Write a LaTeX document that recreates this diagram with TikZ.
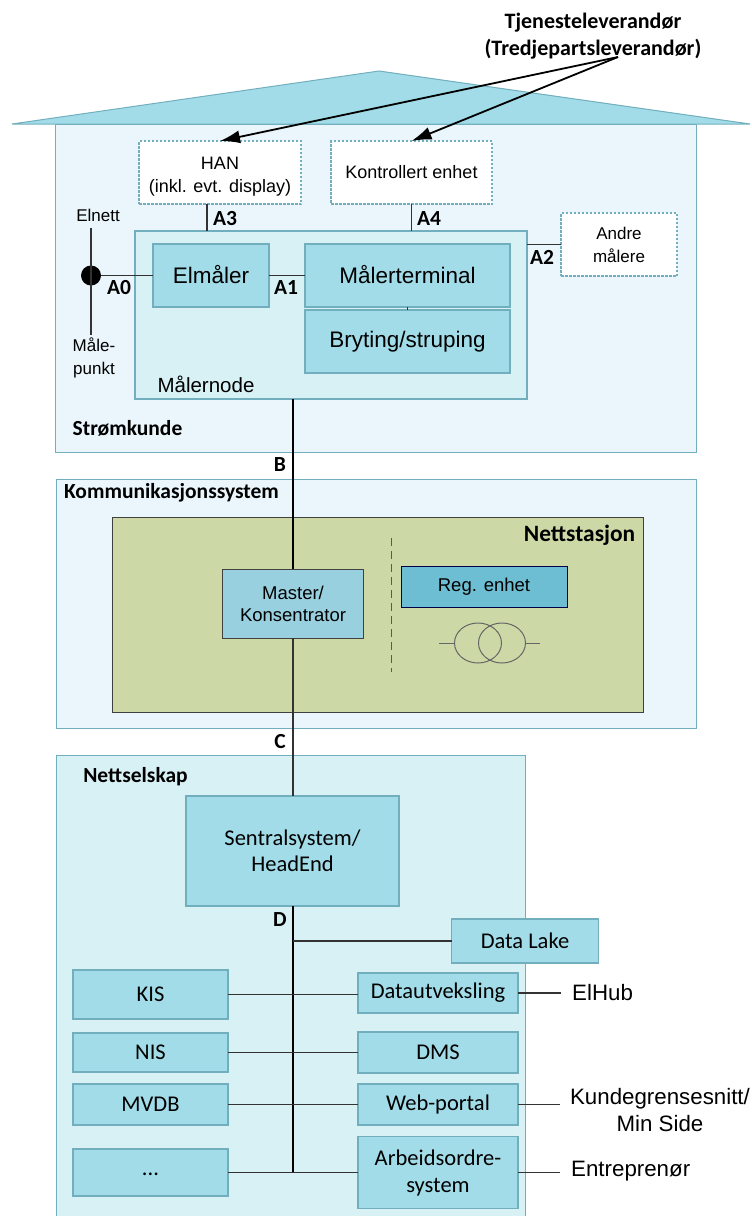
\documentclass[tikz,border=0pt]{standalone}
\usepackage{fontspec}
\setmainfont{Liberation Sans}
\newfontfamily\calibri{Carlito}
\usetikzlibrary{shapes.geometric,arrows.meta}

\definecolor{boxblue}{HTML}{A1DCE8}
\definecolor{paleblue}{HTML}{EAF6FC}
\definecolor{nodeblue}{HTML}{D8F1F5}
\definecolor{edgeblue}{HTML}{72AFBE}
\definecolor{stationgreen}{HTML}{CCD9A6}
\definecolor{masterblue}{HTML}{99D0DF}
\definecolor{regblue}{HTML}{6DBDD3}

\tikzset{
    area/.style={draw=edgeblue,fill=paleblue,line width=1pt,inner sep=0pt,outer sep=0pt},
    box/.style={draw=edgeblue,fill=boxblue,line width=1.2pt,inner sep=0pt,outer sep=0pt,align=center,font=\fontsize{22.5}{27}\selectfont},
    darkbox/.style={draw=black!75,line width=1pt,inner sep=0pt,outer sep=0pt,align=center,font=\fontsize{18.5}{22}\selectfont},
    open/.style={draw=edgeblue,fill=white,dash pattern=on 2.5pt off 1.5pt,line width=1.2pt,inner sep=0pt,outer sep=0pt,align=center,font=\fontsize{18}{23}\selectfont},
    plain/.style={inner sep=0pt,align=center,font=\fontsize{17}{23}\selectfont},
    tag/.style={inner sep=0pt,font=\calibri\bfseries\fontsize{21.5}{22}\selectfont},
    outside/.style={inner sep=0pt,align=center,font=\fontsize{22.3}{27}\selectfont},
    wire/.style={draw=black!80,line width=1.1pt},
    pointer/.style={-{Latex[length=20pt,width=13pt]},line width=1.8pt},
}

\begin{document}
\begin{tikzpicture}[x=1pt,y=-1pt]
    \useasboundingbox (0,0) rectangle (752,1216);
    % Stroemkunde
    \node[area,minimum width=641,minimum height=328] (house) at (375.5,288) {};
    \draw[edgeblue,fill=boxblue,line width=1pt] (12,124) -- (379,71) -- (750,124) -- cycle;
    \node[tag] (stromkunde) at (127.5,428) {Strømkunde};
    \node[tag,font=\calibri\bfseries\fontsize{22}{27}\selectfont,align=center] (tjeneste) at (593,36) {Tjenesteleverandør\\(Tredjepartsleverandør)};
    \coordinate (spread) at (618,57);

    \node[open,minimum width=162,minimum height=63] (han) at (220,172.5) {\rule{0pt}{20pt}HAN\\(inkl. evt. display)};
    \node[open,minimum width=161,minimum height=63] (kontroll) at (411.5,172.5) {Kontrollert enhet};
    \node[open,font=\fontsize{17}{23}\selectfont,minimum width=116,minimum height=63] (andre) at (619,244.5) {Andre\\målere};
    \draw[pointer] (spread) -- (han.north);
    \draw[pointer] (spread) -- (kontroll.north);

    \node[box,fill=nodeblue,minimum width=392,minimum height=168] (malernode) at (331,315) {};
    \node[plain,font=\fontsize{20.5}{24}\selectfont] (nodelabel) at (206,384) {Målernode};
    \node[box,minimum width=116,minimum height=63] (elmaler) at (211,275.5) {\raisebox{2pt}{Elmåler}};
    \node[box,minimum width=205,minimum height=63] (terminal) at (407.5,275.5) {\raisebox{2pt}{Målerterminal}};
    \node[box,minimum width=205,minimum height=63] (bryting) at (407.5,341.5) {Bryting/struping};
    \draw[wire] (terminal) -- (bryting);

    \node[circle,fill=black,minimum size=20,inner sep=0pt] (punkt) at (91,275.5) {};
    \coordinate (nett) at (91,228);
    \coordinate (bunn) at (91,335);
    \coordinate (hanport) at (207,231);
    \draw[wire] (nett) -- (bunn);
    \draw[wire] (punkt) -- (elmaler.west);
    \draw[wire] (elmaler.east) -- (terminal.west);
    \node[plain] (elnett) at (98,215) {Elnett};
    \node[plain] (malepunkt) at (94,358) {Måle-\\punkt};
    \node[tag] (a0) at (119,288) {A0};
    \node[tag] (a1) at (286,288) {A1};
    \node[tag] (a2) at (542,257) {A2};
    \node[tag] (a3) at (225,219) {A3};
    \node[tag] (a4) at (429,219) {A4};
    \draw[wire] (han.south -| hanport) -- (hanport);
    \draw[wire] (kontroll.south) -- (malernode.north -| kontroll.south);
    \draw[wire] (malernode.east |- andre) -- (andre.west);

    % Kommunikasjonssystem
    \node[area,minimum width=640,minimum height=249] (komm) at (376,603.5) {};
    \node[tag] (kommlabel) at (171.5,493) {Kommunikasjonssystem};
    \node[darkbox,fill=stationgreen,minimum width=531,minimum height=195] (stasjon) at (377.5,614.5) {};
    \node[tag,font=\calibri\bfseries\fontsize{23.4}{24}\selectfont] (stasjonlabel) at (579.5,535) {Nettstasjon};
    \node[darkbox,fill=masterblue,minimum width=141,minimum height=69] (master) at (293,603.5) {Master/\\Konsentrator};
    \node[darkbox,fill=regblue,draw=black!70!blue,minimum width=166,minimum height=41] (reg) at (484,586.5) {Reg. enhet};
    \draw[black!65,dash pattern=on 8pt off 5pt,line width=1pt] (391,538) -- (391,672);
    \node[draw=black!60,ellipse,minimum width=47,minimum height=40,line width=1pt,inner sep=0pt] (trafoa) at (478,643) {};
    \node[draw=black!60,ellipse,minimum width=47,minimum height=40,line width=1pt,inner sep=0pt] (trafob) at (502,643) {};
    \coordinate (trafoinn) at (439,643);
    \coordinate (trafout) at (540,643);
    \draw[black!60,line width=1pt] (trafoinn) -- (trafoa.west);
    \draw[black!60,line width=1pt] (trafob.east) -- (trafout);

    % Nettselskap
    \node[area,fill=nodeblue,minimum width=469,minimum height=462] (selskap) at (290.5,986) {};
    \node[tag] (selskaplabel) at (135.5,777) {Nettselskap};
    \node[box,font=\calibri\fontsize{22.5}{26}\selectfont,minimum width=213,minimum height=110] (sentral) at (292.5,851) {Sentralsystem/\\HeadEnd};

    \draw[line width=1.8pt] (malernode.south -| master.north) -- (master.north);
    \draw[wire] (master.south) -- (sentral.north -| master.south);
    \node[tag] (b) at (280,465) {B};
    \node[tag] (c) at (280,742) {C};
    \node[tag] (d) at (280,920) {D};

    \tikzset{sys/.style={box,font=\calibri\fontsize{22.5}{27}\selectfont}}
    \node[sys,minimum width=147,minimum height=44] (lake) at (525,941) {Data Lake};
    \node[sys,minimum width=155,minimum height=49] (kis) at (150.5,994.5) {KIS};
    \node[sys,minimum width=155,minimum height=39] (nis) at (150.5,1052.5) {NIS};
    \node[sys,minimum width=155,minimum height=41] (mvdb) at (150.5,1104.5) {MVDB};
    \node[sys,minimum width=155,minimum height=47] (dots) at (150.5,1172.5) {\raisebox{-6pt}{...}};
    \node[sys,minimum width=160,minimum height=40] (utveksling) at (438,993) {Datautveksling};
    \node[sys,minimum width=160,minimum height=41] (dms) at (438,1052.5) {DMS};
    \node[sys,minimum width=160,minimum height=41] (web) at (438,1104.5) {Web-portal};
    \node[sys,minimum width=160,minimum height=72] (arbeid) at (438,1172.5) {Arbeidsordre-\\system};

    \coordinate (busend) at (293,1172.5);
    \draw[line width=1.5pt] (sentral.south -| busend) -- (busend);
    \draw[wire] (busend |- lake.west) -- (lake.west);
    \draw[wire] (kis.east) -- (kis.east -| utveksling.west);
    \draw[wire] (nis.east) -- (dms.west);
    \draw[wire] (mvdb.east) -- (web.west);
    \draw[wire] (dots.east) -- (arbeid.west);

    \node[outside,anchor=west] (elhub) at (572,993) {ElHub};
    \node[outside] (kunde) at (660,1110.5) {Kundegrensesnitt/\\Min Side};
    \node[outside,anchor=west] (entreprenor) at (571,1171) {Entreprenør};
    \coordinate (elhubend) at (561,993);
    \coordinate (kundeend) at (560,1104.5);
    \coordinate (entrend) at (560,1172.5);
    \draw[wire] (utveksling.east) -- (elhubend);
    \draw[wire] (web.east) -- (kundeend);
    \draw[wire] (arbeid.east) -- (entrend);
\end{tikzpicture}
\end{document}
